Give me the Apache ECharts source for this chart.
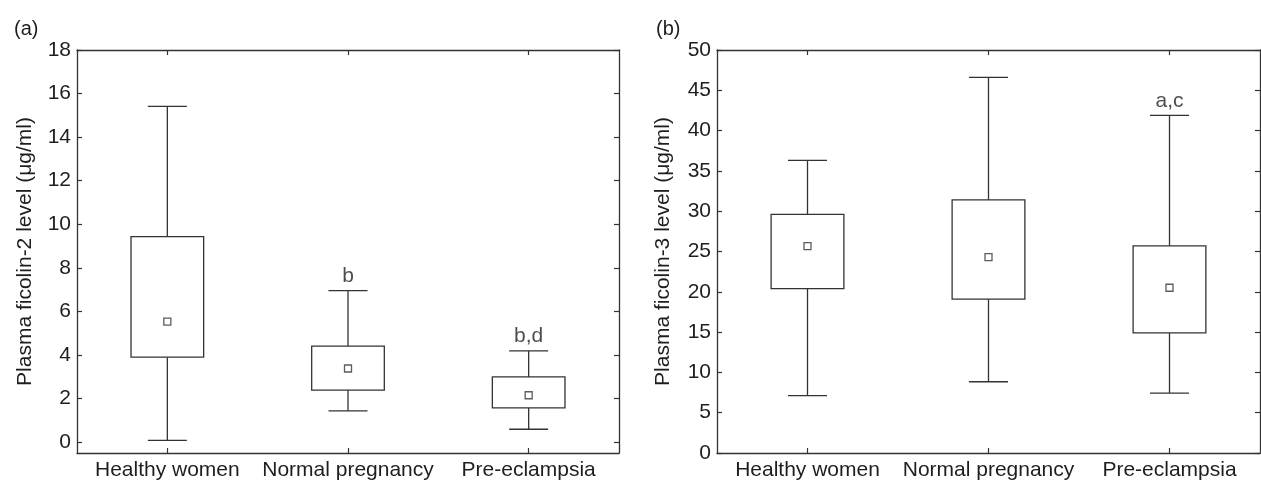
<!DOCTYPE html>
<html>
<head>
<meta charset="utf-8">
<script src="https://cdn.jsdelivr.net/npm/echarts@6/dist/echarts.min.js"></script>
<style>
html,body{margin:0;padding:0;background:#fff;}
#chart{width:1261px;height:481px;}
</style>
</head>
<body>
<div id="chart"></div>
<script>
// ---- Data ----
const categories = ['Healthy women', 'Normal pregnancy', 'Pre-eclampsia'];

// Panel (a): Plasma ficolin-2 level (μg/ml)
const f2Min  = [0.08, 1.43, 0.59];
const f2Q1   = [3.90, 2.39, 1.57];
const f2Q3   = [9.43, 4.41, 2.99];
const f2Max  = [15.41, 6.95, 4.19];
const f2Mean = [5.53, 3.38, 2.15];
const f2Marks = ['', 'b', 'b,d'];
const f2Ticks = [0, 2, 4, 6, 8, 10, 12, 14, 16, 18];

// Panel (b): Plasma ficolin-3 level (μg/ml)
const f3Min  = [7.11, 8.84, 7.44];
const f3Q1   = [20.4, 19.1, 14.9];
const f3Q3   = [29.6, 31.4, 25.7];
const f3Max  = [36.3, 46.6, 41.9];
const f3Mean = [25.66, 24.3, 20.5];
const f3Marks = ['', '', 'a,c'];
const f3Ticks = [0, 5, 10, 15, 20, 25, 30, 35, 40, 45, 50];

const panelTitles = ['(a)', '(b)'];
const yTitles = ['Plasma ficolin-2 level (\u03bcg/ml)', 'Plasma ficolin-3 level (\u03bcg/ml)'];

// ---- Style ----
const FONT = 'Liberation Sans, Arial, Helvetica, sans-serif';
const LINE = '#333';
const TEXT = '#1e1e1e';
const FS = 21;

function boxData(mn, q1, q3, mx) {
  return categories.map((c, i) => [i, mn[i], q1[i], q3[i], mx[i]]);
}

function renderBox(params, api) {
  const i = api.value(0);
  const pMin = api.coord([i, api.value(1)]);
  const pQ1 = api.coord([i, api.value(2)]);
  const pQ3 = api.coord([i, api.value(3)]);
  const pMax = api.coord([i, api.value(4)]);
  const band = api.size([1, 0])[0];
  const bw = band * 0.402;
  const cw = band * 0.216;
  const x = pMin[0];
  const st = {stroke: LINE, lineWidth: 1.3, fill: null};
  return {
    type: 'group',
    children: [
      {type: 'line', shape: {x1: x, y1: pMax[1], x2: x, y2: pQ3[1]}, style: st},
      {type: 'line', shape: {x1: x, y1: pMin[1], x2: x, y2: pQ1[1]}, style: st},
      {type: 'line', shape: {x1: x - cw / 2, y1: pMax[1], x2: x + cw / 2, y2: pMax[1]}, style: st},
      {type: 'line', shape: {x1: x - cw / 2, y1: pMin[1], x2: x + cw / 2, y2: pMin[1]}, style: st},
      {type: 'rect', shape: {x: x - bw / 2, y: pQ3[1], width: bw, height: pQ1[1] - pQ3[1]},
        style: {stroke: LINE, lineWidth: 1.3, fill: '#fff'}}
    ]
  };
}

const grids = [
  {left: 77, top: 50, width: 542, height: 405},
  {left: 717, top: 50, width: 543, height: 405}
];

function xAxes(gi) {
  return [
    {
      type: 'category', gridIndex: gi, data: categories, position: 'bottom',
      axisLine: {show: true, onZero: false, lineStyle: {color: LINE, width: 1.3}},
      axisTick: {show: true, inside: true, alignWithLabel: true, length: 5, lineStyle: {color: LINE, width: 1.2}},
      axisLabel: {color: TEXT, fontSize: FS, fontFamily: FONT, margin: 7, interval: 0},
      splitLine: {show: false}
    },
    {
      type: 'category', gridIndex: gi, data: categories, position: 'top',
      axisLine: {show: true, onZero: false, lineStyle: {color: LINE, width: 1.3}},
      axisTick: {show: true, inside: true, alignWithLabel: true, length: 5, lineStyle: {color: LINE, width: 1.2}},
      axisLabel: {show: false},
      splitLine: {show: false}
    }
  ];
}

function yAxes(gi, min, max, ticks, title, gap) {
  const common = {
    type: 'value', gridIndex: gi, min: min, max: max,
    splitLine: {show: false}
  };
  return [
    Object.assign({}, common, {
      position: 'left',
      name: title, nameLocation: 'middle', nameRotate: 90, nameGap: gap,
      nameTextStyle: {color: TEXT, fontSize: FS, fontFamily: FONT},
      axisLine: {show: true, onZero: false, lineStyle: {color: LINE, width: 1.3}},
      axisTick: {show: true, inside: true, length: 5, customValues: ticks, lineStyle: {color: LINE, width: 1.2}},
      axisLabel: {color: TEXT, fontSize: FS, fontFamily: FONT, margin: 6, customValues: ticks}
    }),
    Object.assign({}, common, {
      position: 'right',
      axisLine: {show: true, onZero: false, lineStyle: {color: LINE, width: 1.3}},
      axisTick: {show: true, inside: true, length: 5, customValues: ticks, lineStyle: {color: LINE, width: 1.2}},
      axisLabel: {show: false, customValues: ticks}
    })
  ];
}

function panelSeries(xi, yi, mn, q1, q3, mx, mean, marks) {
  return [
    {
      type: 'custom', xAxisIndex: xi, yAxisIndex: yi,
      renderItem: renderBox, data: boxData(mn, q1, q3, mx),
      encode: {x: 0, y: [1, 2, 3, 4]}, silent: true, z: 2
    },
    {
      type: 'scatter', xAxisIndex: xi, yAxisIndex: yi,
      symbol: 'rect', symbolSize: 7,
      itemStyle: {color: '#fff', borderColor: LINE, borderWidth: 1.3},
      data: categories.map((c, i) => [i, mean[i]]), silent: true, z: 3
    },
    {
      type: 'scatter', xAxisIndex: xi, yAxisIndex: yi,
      symbolSize: 0.01, silent: true, z: 4,
      label: {
        show: true, position: 'top', distance: 4,
        color: TEXT, fontSize: FS, fontFamily: FONT,
        formatter: p => marks[p.dataIndex]
      },
      data: categories.map((c, i) => [i, mx[i]])
    }
  ];
}

const chart = echarts.init(document.getElementById('chart'), null, {renderer: 'canvas'});
chart.setOption({
  animation: false,
  backgroundColor: '#fff',
  title: [
    {text: panelTitles[0], left: 9, top: 14, textStyle: {color: TEXT, fontSize: FS - 1, fontWeight: 'normal', fontFamily: FONT}},
    {text: panelTitles[1], left: 651, top: 14, textStyle: {color: TEXT, fontSize: FS - 1, fontWeight: 'normal', fontFamily: FONT}}
  ],
  grid: grids,
  xAxis: xAxes(0).concat(xAxes(1)),
  yAxis: yAxes(0, -0.5, 18, f2Ticks, yTitles[0], 41).concat(yAxes(1, 0, 50, f3Ticks, yTitles[1], 43)),
  series: panelSeries(0, 0, f2Min, f2Q1, f2Q3, f2Max, f2Mean, f2Marks)
    .concat(panelSeries(2, 2, f3Min, f3Q1, f3Q3, f3Max, f3Mean, f3Marks))
});
</script>
</body>
</html>
